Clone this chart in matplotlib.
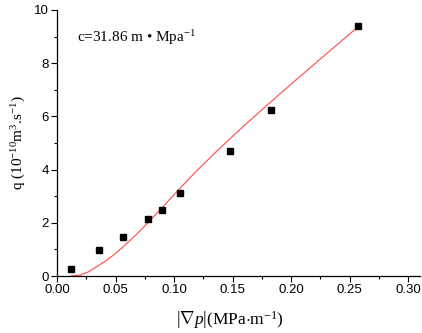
import numpy as np
import matplotlib.pyplot as plt
from matplotlib.ticker import MultipleLocator

# measured points
grad_p = [0.012, 0.036, 0.056, 0.078, 0.090, 0.105, 0.148, 0.1826, 0.2575]
q_meas = [0.26, 0.97, 1.47, 2.14, 2.48, 3.11, 4.71, 6.25, 9.38]

# fitted curve
fit_x = [0.012, 0.020, 0.027, 0.041, 0.048, 0.055, 0.0625, 0.070, 0.0775,
         0.085, 0.095, 0.105, 0.1135, 0.122, 0.135, 0.1475, 0.160, 0.175,
         0.190, 0.2075, 0.225, 0.2575]
fit_y = [0.0, 0.04, 0.16, 0.55, 0.78, 1.04, 1.34, 1.66, 2.00,
         2.35, 2.82, 3.29, 3.69, 4.07, 4.63, 5.15, 5.66, 6.25,
         6.83, 7.50, 8.16, 9.38]

plt.rcParams['font.family'] = 'Liberation Sans'
plt.rcParams['mathtext.fontset'] = 'custom'
plt.rcParams['mathtext.rm'] = 'Liberation Serif'
plt.rcParams['mathtext.it'] = 'Liberation Serif:italic'

fig = plt.figure(figsize=(4.22, 3.33), dpi=100)
ax = fig.add_axes([0.135, 0.171, 0.860, 0.799])

ax.plot(fit_x, fit_y, color='#ff5a5a', lw=0.9)
ax.plot(grad_p, q_meas, 's', color='black', ms=4)

ax.set_xlim(0, 0.31)
ax.set_ylim(0, 10)
ax.xaxis.set_major_locator(MultipleLocator(0.05))
ax.xaxis.set_minor_locator(MultipleLocator(0.025))
ax.yaxis.set_major_locator(MultipleLocator(2))
ax.yaxis.set_minor_locator(MultipleLocator(1))
ax.xaxis.set_major_formatter(plt.FuncFormatter(lambda v, p: f'{v:.2f}'))

for s in ['top', 'right']:
    ax.spines[s].set_visible(False)
for s in ['left', 'bottom']:
    ax.spines[s].set_linewidth(0.9)

ax.tick_params(which='major', length=4, width=0.8, direction='out',
               labelsize=9.5, pad=2)
ax.tick_params(which='minor', length=2.5, width=0.8, direction='out')

ax.set_xlabel(r'$\left|\nabla \mathit{p}\right|$(MPa$\cdot$m$^{-1}$)',
              family='Liberation Serif', fontsize=12.5)
ax.xaxis.set_label_coords(0.478, -0.125)
ax.set_ylabel(r'q (10$^{-10}$m$^{3}$.s$^{-1}$)',
              family='Liberation Serif', fontsize=11, labelpad=4)

ax.text(0.055, 0.88, 'c=31.86 m \u2022 Mpa$^{-1}$', transform=ax.transAxes,
        family='Liberation Serif', fontsize=11)

fig.savefig('out.png', dpi=100)
